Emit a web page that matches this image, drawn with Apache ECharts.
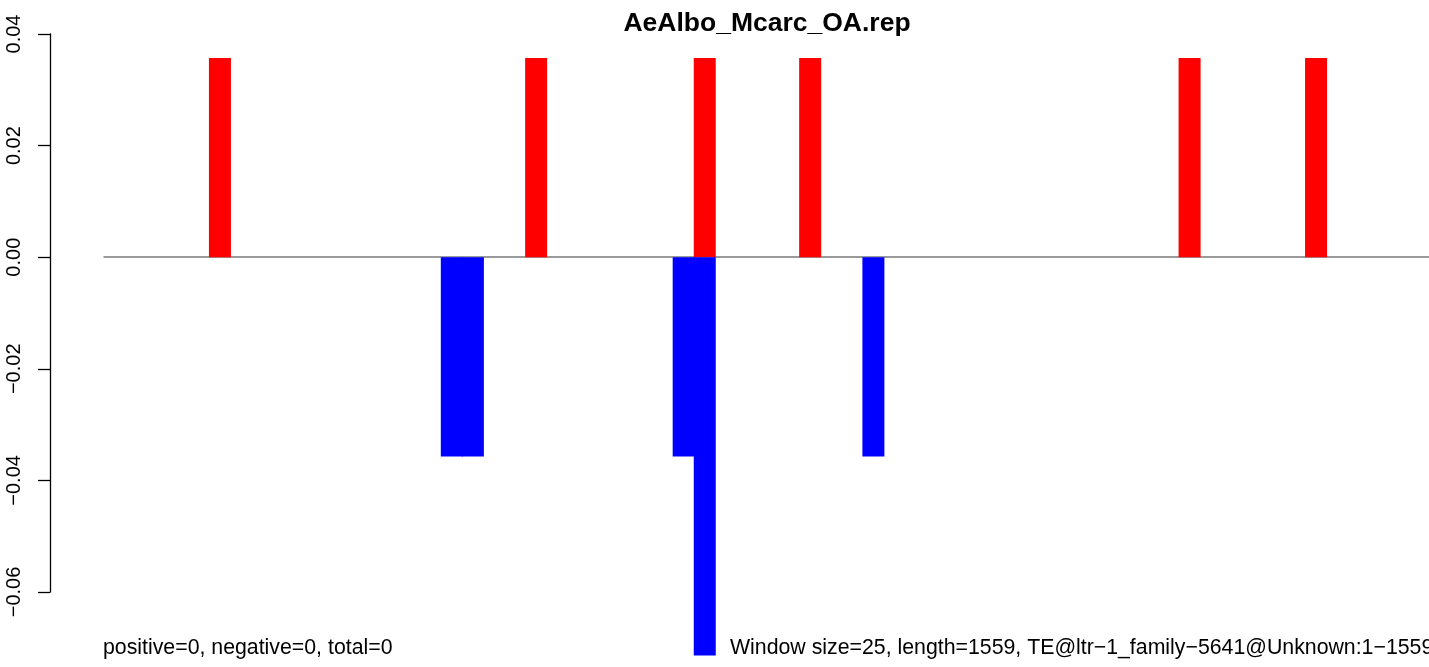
<!DOCTYPE html>
<html>
<head>
<meta charset="utf-8">
<script src="https://cdn.jsdelivr.net/npm/echarts@6/dist/echarts.min.js"></script>
<style>
html,body{margin:0;padding:0;background:#fff;overflow:hidden;}
#chart{width:1440px;height:667px;}
</style>
</head>
<body>
<div id="chart"></div>
<script>
// Window indices (63 windows of size 25 over length 1559)
const categories = ['1','2','3','4','5','6','7','8','9','10','11','12','13','14','15','16','17','18','19','20','21','22','23','24','25','26','27','28','29','30','31','32','33','34','35','36','37','38','39','40','41','42','43','44','45','46','47','48','49','50','51','52','53','54','55','56','57','58','59','60','61','62','63'];
// Positive (red) values per window
const positiveValues = [0,0,0,0,0,0.0357,0,0,0,0,0,0,0,0,0,0,0,0,0,0,0.0357,0,0,0,0,0,0,0,0.0357,0,0,0,0,0.0357,0,0,0,0,0,0,0,0,0,0,0,0,0,0,0,0,0,0.0357,0,0,0,0,0,0.0357,0,0,0,0,0];
// Negative (blue) values per window
const negativeValues = [0,0,0,0,0,0,0,0,0,0,0,0,0,0,0,0,-0.0357,-0.0357,0,0,0,0,0,0,0,0,0,-0.0357,-0.0714,0,0,0,0,0,0,0,-0.0357,0,0,0,0,0,0,0,0,0,0,0,0,0,0,0,0,0,0,0,0,0,0,0,0,0,0];
const yTicks = [-0.06, -0.04, -0.02, 0.00, 0.02, 0.04];

const titleText = 'AeAlbo_Mcarc_OA.rep';
const leftNote = 'positive=0, negative=0, total=0';
const rightNote = 'Window size=25, length=1559, TE@ltr\u22121_family\u22125641@Unknown:1\u22121559';

const chart = echarts.init(document.getElementById('chart'), null, {renderer: 'canvas'});
const FONT = '"Liberation Sans", Arial, Helvetica, sans-serif';

chart.setOption({
  animation: false,
  backgroundColor: '#ffffff',
  grid: {left: 104, top: 34, width: 1328, height: 558, containLabel: false},
  xAxis: {
    type: 'category',
    data: categories,
    boundaryGap: true,
    axisLine: {show: true, onZero: true, lineStyle: {color: '#7a7a7a', width: 1.5}},
    axisTick: {show: false},
    axisLabel: {show: false},
    splitLine: {show: false}
  },
  yAxis: {
    type: 'value',
    min: yTicks[0],
    max: yTicks[yTicks.length - 1],
    interval: 0.02,
    offset: 54,
    axisLine: {show: true, lineStyle: {color: '#000', width: 1.3}},
    axisTick: {show: true, length: 12, lineStyle: {color: '#000', width: 1.3}},
    splitLine: {show: false},
    axisLabel: {
      rotate: 90,
      margin: 26,
      fontSize: 20,
      fontFamily: FONT,
      color: '#000',
      formatter: function (v) {
        if (Math.abs(v) < 1e-9) return '0.00';
        return v.toFixed(2).replace('-', '\u2212');
      }
    }
  },
  series: [
    {
      type: 'bar',
      data: positiveValues,
      barWidth: 22,
      barGap: '-100%',
      clip: false,
      itemStyle: {color: '#ff0000'},
      z: 3
    },
    {
      type: 'bar',
      data: negativeValues,
      barWidth: 22,
      barGap: '-100%',
      clip: false,
      itemStyle: {color: '#0000ff'},
      z: 3
    }
  ],
  graphic: [
    {type: 'text', x: 767, y: 24, z: 10,
     style: {text: titleText, fill: '#000', font: 'bold 26.5px ' + FONT, textAlign: 'center', textVerticalAlign: 'middle'}},
    {type: 'text', x: 103, y: 648, z: 10,
     style: {text: leftNote, fill: '#000', font: '21.3px ' + FONT, textAlign: 'left', textVerticalAlign: 'middle'}},
    {type: 'text', x: 730, y: 648, z: 10,
     style: {text: rightNote, fill: '#000', font: '21.3px ' + FONT, textAlign: 'left', textVerticalAlign: 'middle'}}
  ]
});
</script>
</body>
</html>
